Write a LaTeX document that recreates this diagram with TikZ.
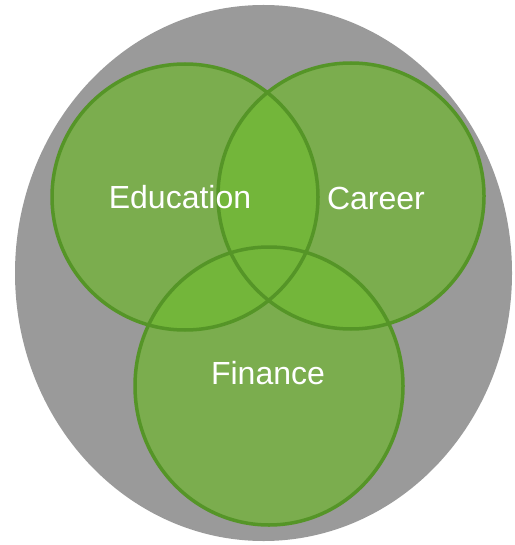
\documentclass[tikz,border=0pt]{standalone}
\usepackage{fontspec}
\setmainfont{Liberation Sans}
\definecolor{outergray}{HTML}{9A9A9A}
\definecolor{leafgreen}{HTML}{7BAD4E}
\definecolor{mixgreen}{HTML}{73B63A}
\definecolor{rimgreen}{HTML}{559527}
\begin{document}
\begin{tikzpicture}[x=1pt, y=-1pt,
	    rim/.style={draw=rimgreen, line width=3.5pt},
	    label/.style={text=white, font=\fontsize{32}{38}\selectfont}]
	    \useasboundingbox (0,0) rectangle (514,545);
	    \coordinate (edu) at (185,197);
	    \coordinate (car) at (351,196);
	    \coordinate (fin) at (269,386);
	    \fill[outergray] (263.5,273) ellipse (248.5 and 268);
	    \fill[leafgreen] (edu) circle (133) (car) circle (133) (fin) ellipse (134 and 139);
	    % overlaps
	    \begin{scope}
	        \clip (edu) circle (133);
	        \fill[mixgreen] (car) circle (133) (fin) ellipse (134 and 139);
	    \end{scope}
	    \begin{scope}
	        \clip (car) circle (133);
	        \fill[mixgreen] (fin) ellipse (134 and 139);
	    \end{scope}
	    \draw[rim] (edu) circle (133) (car) circle (133) (fin) ellipse (134 and 139);
		\node[label] (education) at (180, 197) {Education};
		\node[label] (career) at (376, 198) {Career};
		\node[label] (finance) at (268, 373) {Finance};
	\end{tikzpicture}
\end{document}
